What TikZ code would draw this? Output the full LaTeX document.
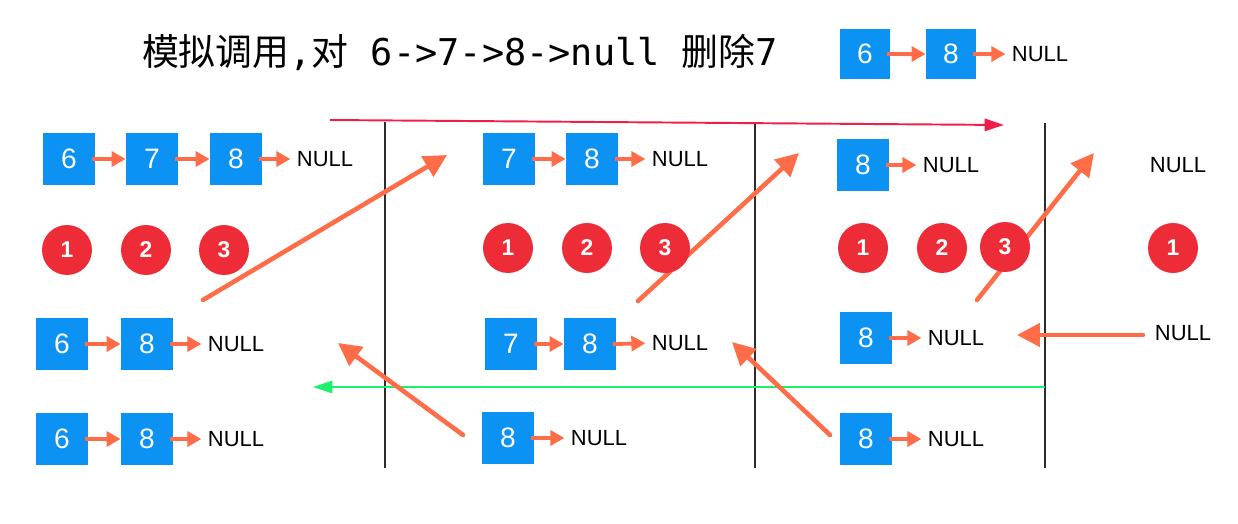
\documentclass[tikz,border=0pt]{standalone}
\usepackage{fontspec}
\setmainfont{Liberation Sans}
\newfontfamily\cjk{Noto Sans CJK SC}
\newfontfamily\monof{DejaVu Sans Mono}
\usetikzlibrary{arrows.meta}
\definecolor{boxblue}{RGB}{12,146,242}
\definecolor{ballred}{RGB}{238,44,56}
\definecolor{linkor}{RGB}{255,108,72}
\definecolor{topred}{RGB}{240,30,75}
\definecolor{backgreen}{RGB}{30,240,110}
\definecolor{divgray}{RGB}{45,45,45}
\begin{document}
\begin{tikzpicture}[x=0.02cm,y=-0.02cm,
  nbox/.style={fill=boxblue, minimum size=1.04cm, inner sep=0pt, text=white, font=\fontsize{16}{17}\selectfont},
  sbox/.style={nbox, minimum size=1.0cm},
  nulltxt/.style={inner sep=0pt, text=black, font=\fontsize{12.5}{13}\selectfont},
  ball/.style={circle, fill=ballred, minimum size=1.0cm, inner sep=0pt, text=white, font=\bfseries\fontsize{13}{14}\selectfont},
  link/.style={draw=linkor, line width=2.2pt, -{Triangle[length=8pt,width=8.5pt]}, shorten <=-2pt},
  nlink/.style={link, shorten >=3.5pt},
  handarrow/.style={draw=linkor, line width=2.6pt, line cap=round, -{Triangle[length=13pt,width=13pt]}},
  divider/.style={draw=divgray, line width=1pt},
  redarrow/.style={draw=topred, line width=1.1pt, -{Triangle[length=11pt,width=7pt]}},
  greenarrow/.style={draw=backgreen, line width=1.1pt, -{Triangle[length=11pt,width=7pt]}}
]
\useasboundingbox (0,0) rectangle (1238,524);

% title
\node[inner sep=0pt, font=\fontsize{21}{24}\selectfont] (title) at (460,52)
  {{\cjk 模拟调用}{\monof ,}{\cjk 对}{\monof\ 6->7->8->null\ }{\cjk 删除}{\monof 7}};
\node[sbox] (t6) at (865,54) {6};
\node[sbox] (t8) at (951,54) {8};
\node[nulltxt] (tn) at (1040,54) {NULL};
\draw[link] (t6.east) -- (t8.west);
\draw[nlink] (t8.east) -- (tn.west);

% dividers
\coordinate (d1t) at (385,122); \coordinate (d1b) at (385,468);
\coordinate (d2t) at (755,122); \coordinate (d2b) at (755,468);
\coordinate (d3t) at (1045,123); \coordinate (d3b) at (1045,468);
\draw[divider] (d1t) -- (d1b);
\draw[divider] (d2t) -- (d2b);
\draw[divider] (d3t) -- (d3b);

% recursion / return arrows
\coordinate (rs) at (330,120); \coordinate (re) at (1004,125);
\draw[redarrow] (rs) -- (re);
\coordinate (gs) at (1045,387); \coordinate (ge) at (313,387);
\draw[greenarrow] (gs) -- (ge);

% hand-drawn arrows
\coordinate (h1s) at (203,300); \coordinate (h1e) at (447,155);
\coordinate (h2s) at (463,435); \coordinate (h2e) at (338,343);
\coordinate (h3s) at (638,301); \coordinate (h3e) at (799,153);
\coordinate (h4s) at (830,435); \coordinate (h4e) at (732,342);
\coordinate (h5s) at (977,300); \coordinate (h5e) at (1094,153);
\coordinate (h6s) at (1143,335); \coordinate (h6e) at (1017,335);
\draw[handarrow] (h1s) -- (h1e);
\draw[handarrow] (h2s) -- (h2e);
\draw[handarrow] (h3s) -- (h3e);
\draw[handarrow] (h4s) -- (h4e);
\draw[handarrow] (h5s) -- (h5e);
\draw[handarrow] (h6s) -- (h6e);

% section 1
\node[nbox] (a6) at (69,159) {6};
\node[nbox] (a7) at (152,159) {7};
\node[nbox] (a8) at (236,159) {8};
\node[nulltxt] (an) at (325,159) {NULL};
\draw[link] (a6.east) -- (a7.west);
\draw[link] (a7.east) -- (a8.west);
\draw[nlink] (a8.east) -- (an.west);
\node[ball] (ac1) at (67,250) {1};
\node[ball] (ac2) at (146,250) {2};
\node[ball] (ac3) at (224,250) {3};
\node[nbox] (b6) at (62,344) {6};
\node[nbox] (b8) at (147,344) {8};
\node[nulltxt] (bn) at (236,344) {NULL};
\draw[link] (b6.east) -- (b8.west);
\draw[nlink] (b8.east) -- (bn.west);
\node[nbox] (c6) at (62,439) {6};
\node[nbox] (c8) at (147,439) {8};
\node[nulltxt] (cn) at (236,439) {NULL};
\draw[link] (c6.east) -- (c8.west);
\draw[nlink] (c8.east) -- (cn.west);

% section 2
\node[nbox] (d7) at (509,159) {7};
\node[nbox] (d8) at (592,159) {8};
\node[nulltxt] (dn) at (680,159) {NULL};
\draw[link] (d7.east) -- (d8.west);
\draw[nlink] (d8.east) -- (dn.west);
\node[ball] (dc1) at (508,248) {1};
\node[ball] (dc2) at (587,248) {2};
\node[ball] (dc3) at (665,248) {3};
\node[nbox] (e7) at (511,344) {7};
\node[nbox] (e8) at (590,344) {8};
\node[nulltxt] (en) at (680,343) {NULL};
\draw[link] (e7.east) -- (e8.west);
\draw[nlink] (e8.east) -- (en.west);
\node[nbox] (f8) at (508,438) {8};
\node[nulltxt] (fn) at (599,438) {NULL};
\draw[nlink] (f8.east) -- (fn.west);

% section 3
\node[nbox] (g8) at (863,165) {8};
\node[nulltxt] (gn) at (951,165) {NULL};
\draw[nlink] (g8.east) -- (gn.west);
\node[ball] (gc1) at (863,248) {1};
\node[ball] (gc2) at (942,248) {2};
\node[ball] (gc3) at (1005,247) {3};
\node[nbox] (k8) at (866,338) {8};
\node[nulltxt] (kn) at (956,338) {NULL};
\draw[nlink] (k8.east) -- (kn.west);
\node[nbox] (m8) at (866,439) {8};
\node[nulltxt] (mn) at (956,439) {NULL};
\draw[nlink] (m8.east) -- (mn.west);

% section 4
\node[nulltxt] (pn) at (1178,165) {NULL};
\node[ball] (pc1) at (1173,248) {1};
\node[nulltxt] (qn) at (1183,333) {NULL};
\end{tikzpicture}
\end{document}
